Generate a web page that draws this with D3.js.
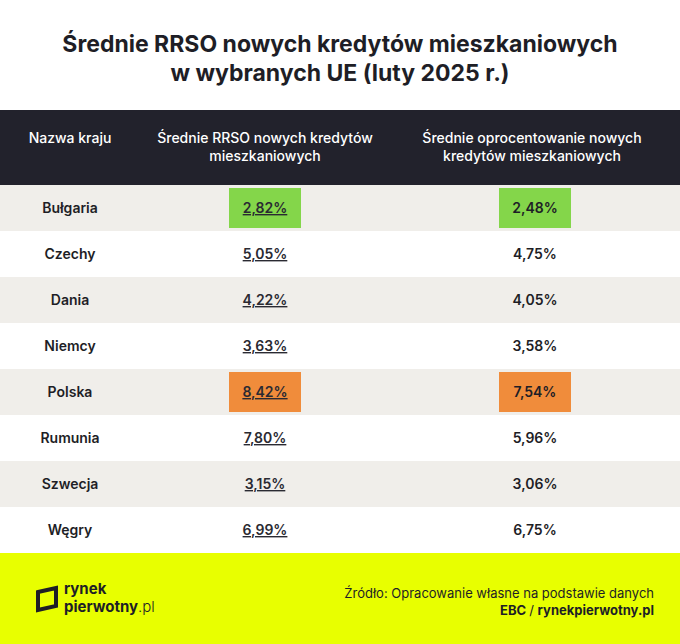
<!DOCTYPE html><html><head><meta charset="utf-8">
<script src="https://cdn.jsdelivr.net/npm/d3@7"></script>
<style>body{margin:0;background:#fff}svg{display:block;font-family:Inter,"Open Sans",sans-serif}</style></head><body>
<script>
const countries=["Bułgaria","Czechy","Dania","Niemcy","Polska","Rumunia","Szwecja","Węgry"];
const rrso=[2.82,5.05,4.22,3.63,8.42,7.80,3.15,6.99];
const rate=[2.48,4.75,4.05,3.58,7.54,5.96,3.06,6.75];
const headers=[["Nazwa kraju"],["Średnie RRSO nowych kredytów","mieszkaniowych"],["Średnie oprocentowanie nowych","kredytów mieszkaniowych"]];
const W=680,H=644;
const svg=d3.select("body").append("svg").attr("width",W).attr("height",H);
const fmt=v=>v.toFixed(2).replace(".",",")+"%";
svg.append("text").attr("x",W/2).attr("y",52).attr("text-anchor","middle").attr("font-size",23).attr("font-weight",700).attr("fill","#1e1e26").text("Średnie RRSO nowych kredytów mieszkaniowych");
svg.append("text").attr("x",W/2).attr("y",81).attr("text-anchor","middle").attr("font-size",23).attr("font-weight",700).attr("fill","#1e1e26").text("w wybranych UE (luty 2025 r.)");
svg.append("rect").attr("x",0).attr("y",110).attr("width",W).attr("height",75).attr("fill","#22222c");
const colX=[70,265,532];
headers.forEach((h,i)=>{h.forEach((l,j)=>svg.append("text").attr("x",colX[i]).attr("y",(h.length==1?143:143)+j*18).attr("text-anchor","middle").attr("font-size",14).attr("font-weight",500).attr("fill","#fff").text(l));});
const y=d3.scaleBand().domain(countries).range([185,553]);
const minR=d3.min(rrso),maxR=d3.max(rrso),minP=d3.min(rate),maxP=d3.max(rate);
const g=svg.selectAll("g.row").data(countries).join("g").attr("transform",d=>`translate(0,${y(d)})`);
g.append("rect").attr("width",W).attr("height",y.bandwidth()).attr("fill",(d,i)=>i%2?"#fff":"#f0eeea");
const bh=y.bandwidth();
g.each(function(d,i){
 const s=d3.select(this);
 const hl=(v,mn,mx,cx)=>{if(v===mn||v===mx)s.append("rect").attr("x",cx-36).attr("y",3).attr("width",72).attr("height",bh-6).attr("fill",v===mn?"#84d64a":"#f08c3b");};
 hl(rrso[i],minR,maxR,265);hl(rate[i],minP,maxP,535);
 s.append("text").attr("x",colX[0]).attr("y",bh/2+5).attr("text-anchor","middle").attr("font-size",14).attr("font-weight",600).attr("fill","#1e1e26").text(d);
 s.append("text").attr("x",colX[1]).attr("y",bh/2+5).attr("text-anchor","middle").attr("font-size",14).attr("font-weight",600).attr("fill","#2a2a32").attr("text-decoration","underline").text(fmt(rrso[i]));
 s.append("text").attr("x",535).attr("y",bh/2+5).attr("text-anchor","middle").attr("font-size",14).attr("font-weight",600).attr("fill","#1e1e26").text(fmt(rate[i]));
});
svg.append("rect").attr("x",0).attr("y",553).attr("width",W).attr("height",91).attr("fill","#e8ff00");
const lg=svg.append("g").attr("transform","translate(36,588)");
lg.append("path").attr("d","M2,4 L20,0 L20,18 L2,22 Z").attr("fill","none").attr("stroke","#1e1e26").attr("stroke-width",4);
lg.append("text").attr("x",28).attr("y",6).attr("font-size",15).attr("font-weight",700).attr("fill","#1e1e26").text("rynek");
const t2=lg.append("text").attr("x",28).attr("y",24).attr("font-size",15).attr("font-weight",700).attr("fill","#1e1e26");
t2.append("tspan").text("pierwotny");t2.append("tspan").attr("font-weight",300).text(".pl");
svg.append("text").attr("x",654).attr("y",598).attr("text-anchor","end").attr("font-size",13).attr("fill","#1e1e26").text("Źródło: Opracowanie własne na podstawie danych");
const t3=svg.append("text").attr("x",654).attr("y",615).attr("text-anchor","end").attr("font-size",13).attr("font-weight",700).attr("fill","#1e1e26");
t3.append("tspan").text("EBC ");t3.append("tspan").attr("font-weight",400).text("/ ");t3.append("tspan").text("rynekpierwotny.pl");
</script></body></html>
